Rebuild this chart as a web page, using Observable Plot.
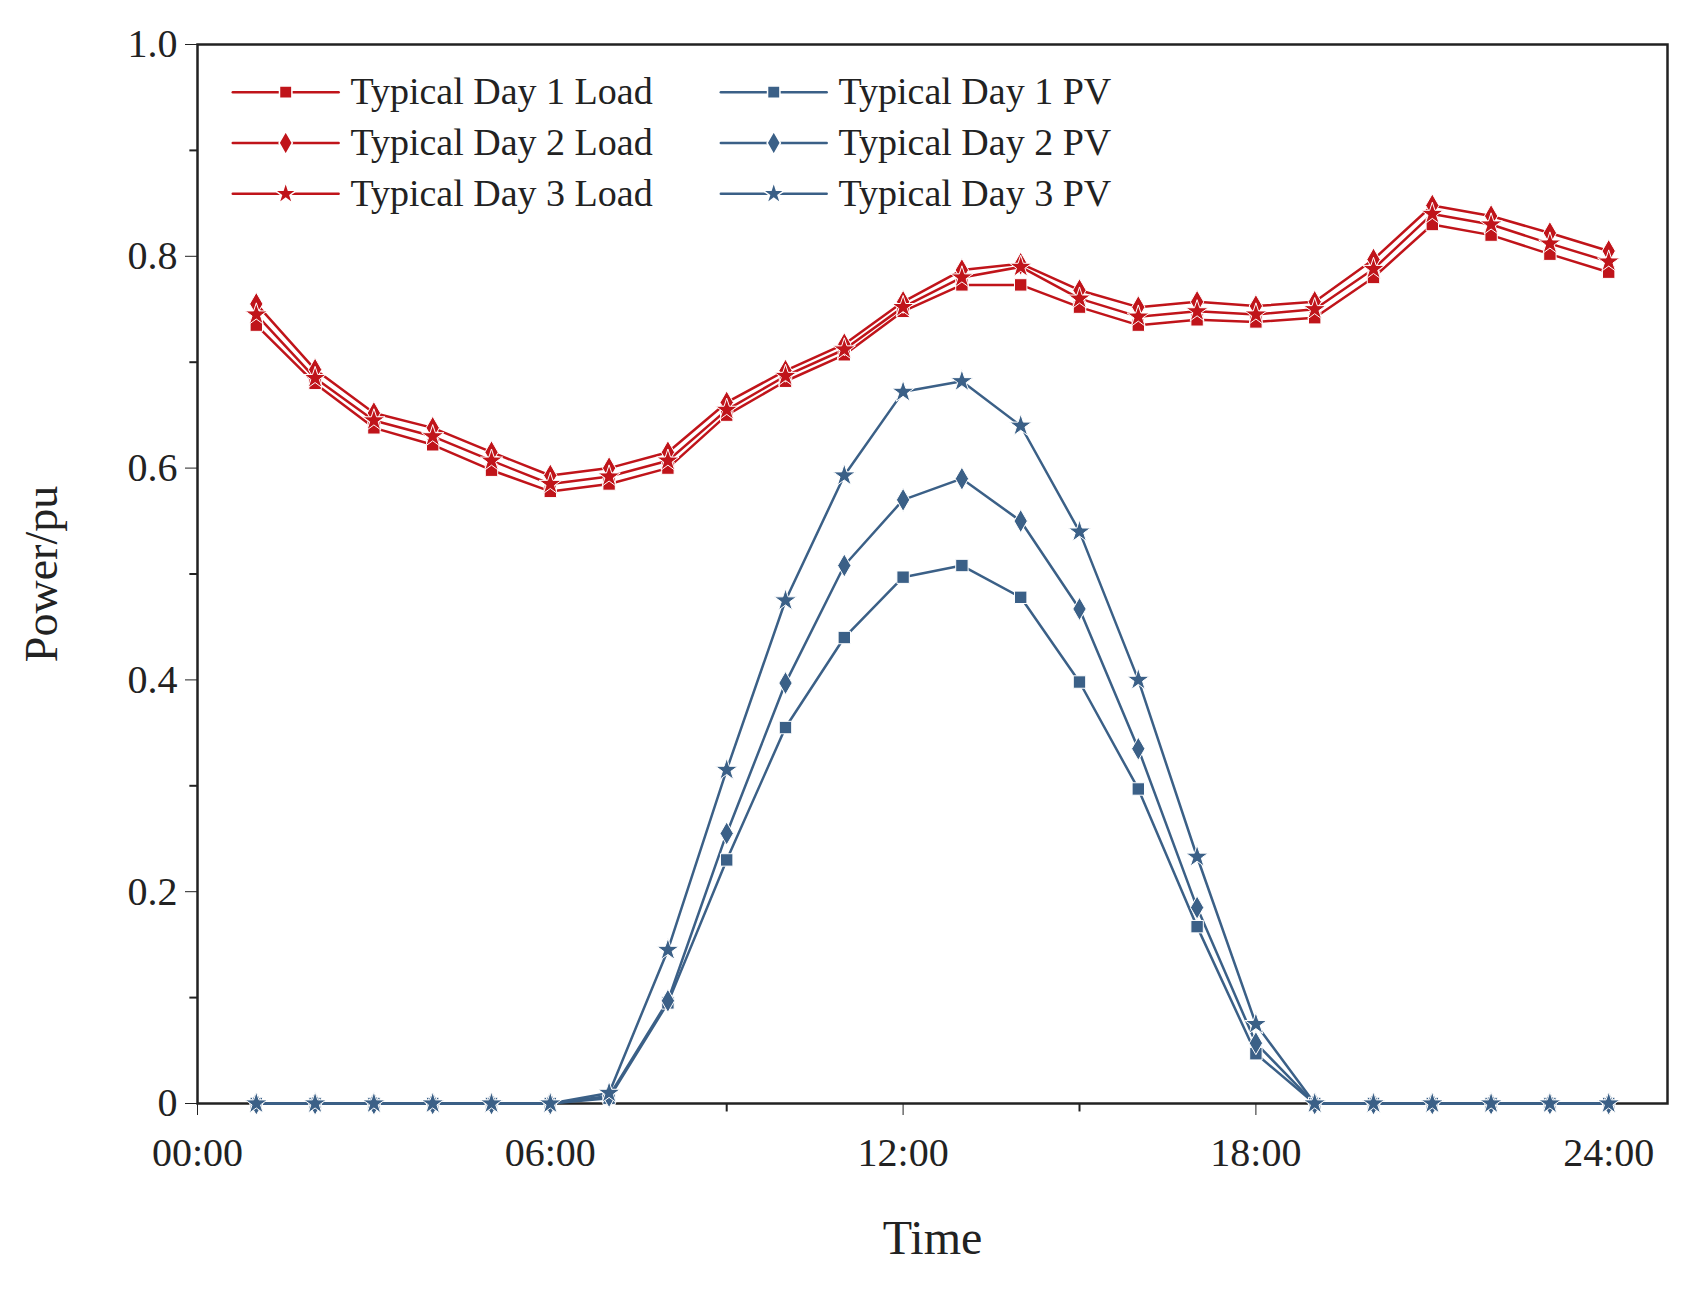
<!DOCTYPE html>
<html><head><meta charset="utf-8">
<script src="https://cdn.jsdelivr.net/npm/d3@7"></script>
<script src="https://cdn.jsdelivr.net/npm/@observablehq/plot@0.6"></script>
<style>body{margin:0;background:#fff}</style>
</head><body><div id="c"></div>
<script>
const hours = d3.range(1, 25);
const load1 = [0.735,0.68,0.638,0.622,0.598,0.578,0.585,0.6,0.65,0.682,0.707,0.748,0.773,0.773,0.752,0.735,0.74,0.738,0.742,0.78,0.83,0.82,0.802,0.785];
const load2 = [0.755,0.693,0.652,0.638,0.615,0.593,0.6,0.615,0.662,0.692,0.717,0.757,0.787,0.793,0.768,0.752,0.757,0.753,0.757,0.797,0.848,0.838,0.822,0.805];
const load3 = [0.745,0.685,0.645,0.63,0.607,0.585,0.592,0.607,0.655,0.687,0.712,0.752,0.78,0.79,0.76,0.743,0.748,0.745,0.75,0.788,0.84,0.83,0.812,0.795];
const pv1 = [0,0,0,0,0,0,0.005,0.095,0.23,0.355,0.44,0.497,0.508,0.478,0.398,0.297,0.167,0.047,0,0,0,0,0,0];
const pv2 = [0,0,0,0,0,0,0.007,0.097,0.255,0.397,0.508,0.57,0.59,0.55,0.467,0.335,0.185,0.057,0,0,0,0,0,0];
const pv3 = [0,0,0,0,0,0,0.01,0.145,0.315,0.475,0.593,0.672,0.682,0.64,0.54,0.4,0.233,0.075,0,0,0,0,0,0];
const xTicks = [0,6,12,18,24];
const xTickLabels = ["00:00","06:00","12:00","18:00","24:00"];
const yTicks = [0,0.2,0.4,0.6,0.8,1.0];
const yMinor = [0.1,0.3,0.5,0.7,0.9];
const xMinor = [3,9,15,21];
const RED = "#c0141a", BLUE = "#3b6087";
const series = [
  {name:"Typical Day 1 Load", v:load1, c:RED, s:"square"},
  {name:"Typical Day 2 Load", v:load2, c:RED, s:"diamond"},
  {name:"Typical Day 3 Load", v:load3, c:RED, s:"star"},
  {name:"Typical Day 1 PV", v:pv1, c:BLUE, s:"square"},
  {name:"Typical Day 2 PV", v:pv2, c:BLUE, s:"diamond"},
  {name:"Typical Day 3 PV", v:pv3, c:BLUE, s:"star"}
];
const rows = series.flatMap(s => s.v.map((y,i)=>({h:hours[i], y, name:s.name, c:s.c, sym:s.s})));
const legend = series.map((s,i)=>({name:s.name, c:s.c, sym:s.s, col: i<3?0:1, row: i%3}));
const lx0 = [0.6, 8.9], lx1 = [2.4, 10.7], ly = [0.955, 0.907, 0.859];
const legLines = legend.flatMap(l=>[{x:lx0[l.col], y:ly[l.row], name:l.name, c:l.c},{x:lx1[l.col], y:ly[l.row], name:l.name, c:l.c}]);
const font = "'Liberation Serif','DejaVu Serif',serif";
const chart = Plot.plot({
  width:1706, height:1292,
  marginLeft:197, marginRight:39, marginTop:44, marginBottom:189,
  style:{fontFamily:font, fontSize:"38px", color:"#222", background:"#fff"},
  x:{domain:[0,25], label:null},
  y:{domain:[0,1], label:null},
  marks:[
    Plot.frame({stroke:"#222", strokeWidth:2.5}),
    Plot.axisX({ticks:xTicks, tickFormat:(d)=>xTickLabels[xTicks.indexOf(d)], tickSize:12, tickPadding:22, label:null, fontSize:40}),
    Plot.axisY({ticks:yTicks, tickFormat:d=>d===0?"0":d.toFixed(1), tickSize:12, tickPadding:8, label:null, fontSize:40}),
    Plot.ruleY(yMinor, {x1:-0.13, x2:0, stroke:"#222", strokeWidth:2, clip:false}),
    Plot.ruleX(xMinor, {y1:0, y2:-0.008, stroke:"#222", strokeWidth:2, clip:false}),
    Plot.line(rows, {x:"h", y:"y", z:"name", stroke:"c", strokeWidth:2.5}),
    Plot.dot(rows, {x:"h", y:"y", symbol:"sym", fill:"c", stroke:"#fff", strokeWidth:1, r:7}),
    Plot.line(legLines, {x:"x", y:"y", z:"name", stroke:"c", strokeWidth:2.5}),
    Plot.dot(legend, {x:l=>(lx0[l.col]+lx1[l.col])/2, y:l=>ly[l.row], symbol:"sym", fill:"c", stroke:"#fff", r:7}),
    Plot.text(legend, {x:l=>lx1[l.col]+0.2, y:l=>ly[l.row], text:"name", textAnchor:"start", fontSize:38, fill:"#222"}),
    Plot.text(["Time"], {x:12.5, y:0, dy:135, text:d=>d, fontSize:48, fill:"#222", clip:false}),
    Plot.text(["Power/pu"], {x:0, y:0.5, dx:-155, rotate:-90, text:d=>d, fontSize:46, fill:"#222", clip:false})
  ]
});
document.getElementById("c").appendChild(chart);
</script></body></html>
